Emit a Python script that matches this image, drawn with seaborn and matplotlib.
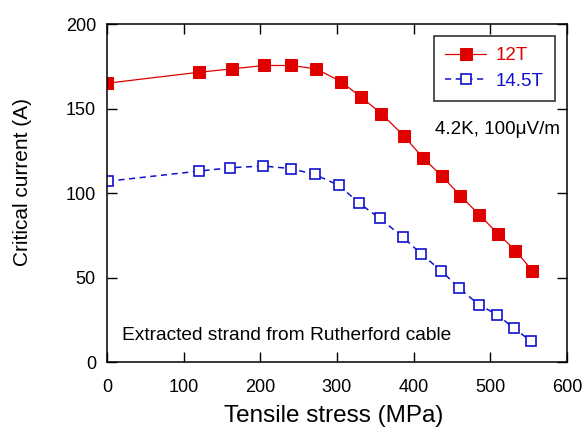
import pandas as pd
import seaborn as sns
import matplotlib.pyplot as plt

# stress (MPa) and critical current (A) for the two fields
stress_12 = [0, 120, 163, 205, 240, 273, 305, 331, 358, 387, 412, 437, 461, 486, 510, 533, 555]
ic_12 = [165, 171.5, 173.5, 175.5, 175.5, 173.5, 166, 157, 147, 134, 121, 110, 98.5, 87, 76, 66, 54]

stress_145 = [1, 120, 161, 204, 240, 271, 303, 329, 356, 386, 410, 436, 459, 485, 509, 531, 553]
ic_145 = [107, 113, 115, 116, 114.5, 111, 104.5, 94, 85, 74, 64, 54, 44, 34, 28, 20, 12.5]

df12 = pd.DataFrame({'stress': stress_12, 'ic': ic_12})
df145 = pd.DataFrame({'stress': stress_145, 'ic': ic_145})

sns.set_style('ticks')
plt.rcParams['font.family'] = ['Liberation Sans', 'DejaVu Sans']
for k in ['text.color', 'axes.labelcolor', 'xtick.color', 'ytick.color', 'axes.edgecolor']:
    plt.rcParams[k] = 'black'

fig, ax = plt.subplots(figsize=(5.88, 4.3), dpi=100)
fig.subplots_adjust(left=0.182, right=0.964, top=0.944, bottom=0.158)

sns.lineplot(data=df12, x='stress', y='ic', ax=ax, color='#e00000', marker='s',
             markersize=8.5, markeredgecolor='#e00000', linewidth=0.9, label='12T')
sns.lineplot(data=df145, x='stress', y='ic', ax=ax, color='#1010d0', marker='s',
             markersize=6.5, markerfacecolor='white', markeredgecolor='#1010d0',
             markeredgewidth=1.2, linewidth=1.1, dashes=(4, 3), label='14.5T')

ax.set_xlim(0, 600)
ax.set_ylim(0, 200)
ax.set_xticks(range(0, 601, 100))
ax.set_yticks(range(0, 201, 50))
ax.tick_params(direction='in', length=7.5, width=1, labelsize=13,
               top=True, right=True, labeltop=False, labelright=False)
ax.tick_params(axis='x', pad=12)
ax.tick_params(axis='y', pad=8)
for s in ax.spines.values():
    s.set_linewidth(1.1)

ax.set_xlabel('Tensile stress (MPa)', fontsize=17.5)
ax.xaxis.set_label_coords(0.493, -0.128)
ax.set_ylabel('Critical current (A)', fontsize=15)
ax.yaxis.set_label_coords(-0.163, 0.533)

leg = ax.legend(loc='upper right', bbox_to_anchor=(0.974, 0.965), fontsize=13.5,
                frameon=True, fancybox=False, edgecolor='black', handlelength=2.2,
                borderpad=0.6, labelspacing=0.45, handletextpad=0.5, borderaxespad=0)
leg.get_frame().set_linewidth(1.2)
for t, c in zip(leg.get_texts(), ['#e00000', '#1010d0']):
    t.set_color(c)

ax.text(0.985, 0.689, '4.2K, 100μV/m', transform=ax.transAxes,
        ha='right', va='center', fontsize=13.6)
ax.text(0.033, 0.08, 'Extracted strand from Rutherford cable', transform=ax.transAxes,
        ha='left', va='center', fontsize=13.8)

plt.savefig('out.png', dpi=100)
